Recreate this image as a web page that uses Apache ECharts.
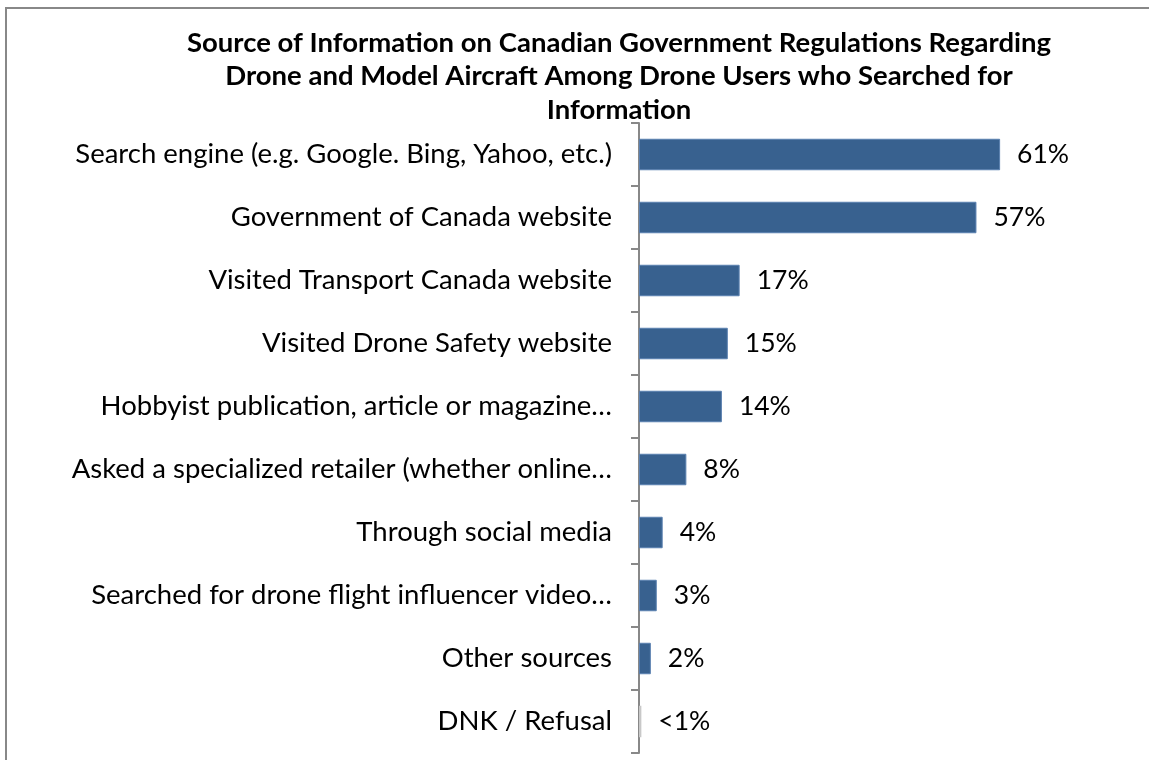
<!DOCTYPE html>
<html>
<head>
<meta charset="utf-8">
<script src="https://cdn.jsdelivr.net/npm/echarts@6/dist/echarts.min.js"></script>
<style>
  html, body { margin: 0; padding: 0; background: #fff; }
  #frame { position: absolute; left: 5px; top: 7px; width: 1200px; height: 800px;
           border-left: 2px solid #888; border-top: 2px solid #888; }
  #chart { position: absolute; left: 0; top: 0; width: 1149px; height: 760px; }
</style>
</head>
<body>
<div id="frame"></div>
<div id="chart"></div>
<script>
// Survey answers, top to bottom
const categories = [
  'Search engine (e.g. Google. Bing, Yahoo, etc.)',
  'Government of Canada website',
  'Visited Transport Canada website',
  'Visited Drone Safety website',
  'Hobbyist publication, article or magazine…',
  'Asked a specialized retailer (whether online…',
  'Through social media',
  'Searched for drone flight influencer video…',
  'Other sources',
  'DNK / Refusal'
];
// Percent of respondents
const values = [61, 57, 17, 15, 14, 8, 4, 3, 2, 0.4];
const valueLabels = ['61%', '57%', '17%', '15%', '14%', '8%', '4%', '3%', '2%', '<1%'];

const titleText = 'Source of Information on Canadian Government Regulations Regarding\nDrone and Model Aircraft Among Drone Users who Searched for\nInformation';

const FONT = 'Lato, "Open Sans", sans-serif';

const chart = echarts.init(document.getElementById('chart'), null, { renderer: 'canvas' });

chart.setOption({
  animation: false,
  backgroundColor: 'transparent',
  title: {
    text: titleText,
    left: 614,
    textAlign: 'center',
    top: 21,
    textStyle: {
      fontFamily: FONT,
      fontSize: 27.5,
      fontWeight: 'bold',
      color: '#000',
      lineHeight: 33.5
    }
  },
  grid: {
    left: 639,
    top: 123,
    bottom: 7,
    right: 95.6,
    outerBoundsMode: 'none',
    containLabel: false
  },
  xAxis: {
    type: 'value',
    min: 0,
    max: 70,
    show: false
  },
  yAxis: {
    type: 'category',
    inverse: true,
    data: categories,
    axisLine: { show: true, lineStyle: { color: '#888', width: 2 } },
    axisTick: { show: true, length: 8, lineStyle: { color: '#888', width: 2 } },
    axisLabel: {
      margin: 27,
      fontFamily: FONT,
      fontSize: 27.5,
      color: '#000'
    },
    splitLine: { show: false }
  },
  series: [{
    type: 'bar',
    barCategoryGap: '50%',
    data: values.map((v, i) => ({
      value: v,
      itemStyle: i === values.length - 1
        ? { color: '#C8C8C8', borderColor: '#C8C8C8', borderWidth: 0 }
        : { color: '#38618F', borderColor: '#5A80B0', borderWidth: 1 }
    })),
    label: {
      show: true,
      position: 'right',
      distance: 17,
      fontFamily: FONT,
      fontSize: 26.5,
      color: '#000',
      formatter: p => valueLabels[p.dataIndex]
    }
  }]
});
</script>
</body>
</html>
